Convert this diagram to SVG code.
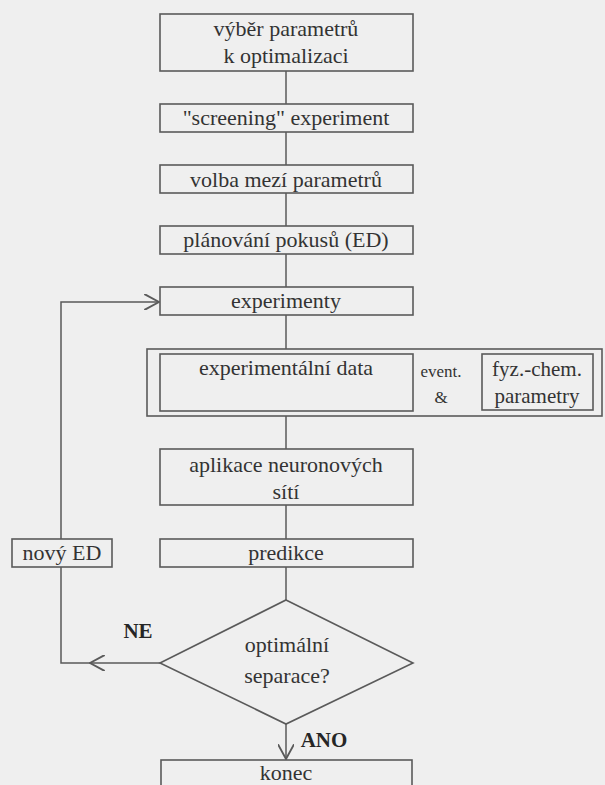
<svg xmlns="http://www.w3.org/2000/svg" width="605" height="785" viewBox="0 0 605 785">
<style>
.bg{fill:#efefef}
.box{fill:none;stroke:#5a5a5a;stroke-width:1.6}
.ln{fill:none;stroke:#5a5a5a;stroke-width:1.5}
.t{font-family:'Liberation Serif','DejaVu Serif',serif;font-size:22px;fill:#333333;text-anchor:middle}
.m{font-size:21px}
.s{font-size:17px}
.b{font-weight:bold;fill:#262626;font-size:21px}
</style>
<defs>
<marker id="arr" viewBox="0 0 12 12" refX="11" refY="6" markerWidth="16" markerHeight="16" markerUnits="userSpaceOnUse" orient="auto">
<path d="M0,0 L11,6 L0,12" fill="none" stroke="#5a5a5a" stroke-width="1.4"/>
</marker>
</defs>
<rect class="bg" x="0" y="0" width="605" height="785"/>
<g id="connectors">
<path class="ln" d="M286,71 V104"/>
<path class="ln" d="M286,132 V165"/>
<path class="ln" d="M286,193 V226"/>
<path class="ln" d="M286,254 V287"/>
<path class="ln" d="M286,315 V349"/>
<path class="ln" d="M286,416 V449"/>
<path class="ln" d="M286,505 V539"/>
<path class="ln" d="M286,567 V600"/>
<path class="ln" d="M286,724 V759" marker-end="url(#arr)"/>
<path class="ln" d="M160,663 H90" marker-end="url(#arr)"/>
<path class="ln" d="M90,663 H61 V567"/>
<path class="ln" d="M61,539 V302 H159" marker-end="url(#arr)"/>
</g>
<g id="n1"><rect class="box" x="160" y="14" width="253" height="57"/><text class="t" x="286" y="36">výběr parametrů</text><text class="t" x="286" y="63">k optimalizaci</text></g>
<g id="n2"><rect class="box" x="160" y="104" width="253" height="28"/><text class="t" x="286" y="125">"screening" experiment</text></g>
<g id="n3"><rect class="box" x="160" y="165" width="253" height="28"/><text class="t" x="286" y="187">volba mezí parametrů</text></g>
<g id="n4"><rect class="box" x="160" y="226" width="253" height="28"/><text class="t" x="286" y="247">plánování pokusů (ED)</text></g>
<g id="n5"><rect class="box" x="160" y="287" width="253" height="28"/><text class="t" x="286" y="308">experimenty</text></g>
<g id="n6">
<rect class="box" x="147" y="349" width="455" height="67"/>
<rect class="box" x="160" y="354" width="253" height="57"/>
<text class="t" x="286" y="375">experimentální data</text>
<text class="t s" x="441" y="377">event.</text>
<text class="t s" x="441" y="403">&amp;</text>
<rect class="box" x="482" y="354" width="111" height="56"/>
<text class="t m" x="537" y="376">fyz.-chem.</text>
<text class="t m" x="537" y="403">parametry</text>
</g>
<g id="n7"><rect class="box" x="160" y="449" width="253" height="56"/><text class="t" x="286" y="472">aplikace neuronových</text><text class="t" x="286" y="499">sítí</text></g>
<g id="n8"><rect class="box" x="160" y="539" width="253" height="28"/><text class="t" x="286" y="560">predikce</text></g>
<g id="n9"><rect class="box" x="12" y="539" width="100" height="28"/><text class="t" x="62" y="560">nový ED</text></g>
<g id="n10"><path class="box" d="M286,600 L413,663 L286,724 L160,663 Z"/><text class="t" x="287" y="652">optimální</text><text class="t" x="287" y="683">separace?</text></g>
<g id="n11"><rect class="box" x="161" y="760" width="251" height="40"/><text class="t" x="286" y="780">konec</text></g>
<text class="t b" x="138" y="638">NE</text>
<text class="t b" x="324" y="747">ANO</text>
</svg>
